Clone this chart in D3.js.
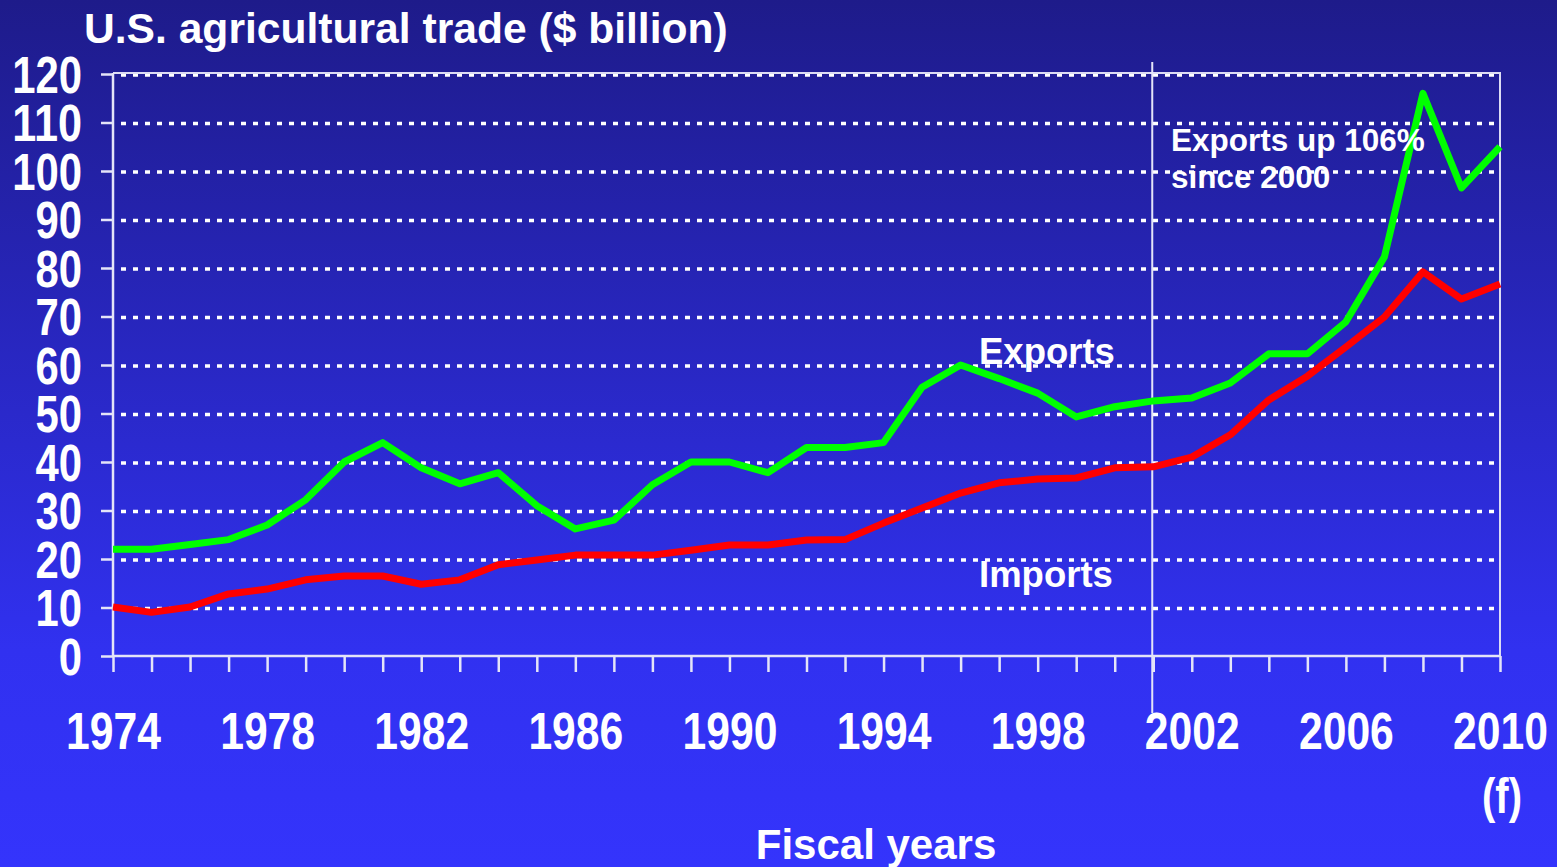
<!DOCTYPE html>
<html>
<head>
<meta charset="utf-8">
<script src="https://cdn.jsdelivr.net/npm/d3@7"></script>
<style>
  html, body { margin: 0; padding: 0; overflow: hidden; }
  svg { display: block; }
  .tick text { fill: #fff; font-family: "Liberation Sans", Arial, sans-serif; font-weight: bold; }
  .lbl { fill: #fff; font-family: "Liberation Sans", Arial, sans-serif; font-weight: bold; }
</style>
</head>
<body>
<div class="container"></div>
<script>
const years = [1974, 1975, 1976, 1977, 1978, 1979, 1980, 1981, 1982, 1983, 1984, 1985,
  1986, 1987, 1988, 1989, 1990, 1991, 1992, 1993, 1994, 1995, 1996, 1997, 1998,
  1999, 2000, 2001, 2002, 2003, 2004, 2005, 2006, 2007, 2008, 2009, 2010];

const exportsValues = [22, 22, 23, 24, 27, 32.2, 40, 44, 38.8, 35.5, 37.8, 31,
  26.2, 28, 35.3, 40, 40, 37.8, 43, 43, 44, 55.4, 60, 57.2, 54.2,
  49.3, 51.4, 52.6, 53.2, 56.3, 62.3, 62.3, 68.9, 82.3, 116, 96.5, 105];

const importsValues = [10.1, 9, 10.1, 12.8, 13.8, 15.7, 16.5, 16.5, 14.8, 15.7, 18.8, 19.8,
  20.8, 20.8, 20.8, 21.8, 22.9, 22.9, 23.9, 24, 27.4, 30.5, 33.6, 35.7, 36.5,
  36.7, 38.8, 39, 41, 45.6, 52.8, 57.7, 63.7, 69.9, 79.2, 73.6, 76.7];

const yTicks = [0, 10, 20, 30, 40, 50, 60, 70, 80, 90, 100, 110, 120];
const xLabelYears = [1974, 1978, 1982, 1986, 1990, 1994, 1998, 2002, 2006, 2010];
const markerYear = 2001;

const width = 1557;
const height = 867;
const margin = { top: 74, right: 57, bottom: 211, left: 113 };

// narrow bold digits: no condensed font installed, so squeeze each label
const narrow = (sel, size) => sel
  .style('font-size', `${size}px`)
  .attr('textLength', function () { return this.textContent.length * 0.456 * size; })
  .attr('lengthAdjust', 'spacingAndGlyphs');

const svg = d3.select('.container')
  .append('svg')
  .attr('width', width)
  .attr('height', height);

// background
const grad = svg.append('defs').append('linearGradient')
  .attr('id', 'bg')
  .attr('x1', 0).attr('y1', 0).attr('x2', 0).attr('y2', 1);
grad.append('stop').attr('offset', '0').attr('stop-color', '#1e1b8a');
grad.append('stop').attr('offset', '0.75').attr('stop-color', '#3131f0');
grad.append('stop').attr('offset', '1').attr('stop-color', '#3434fc');

svg.append('rect')
  .attr('width', width)
  .attr('height', height)
  .attr('fill', 'url(#bg)');

const x = d3.scaleLinear()
  .domain([1974, 2010])
  .range([margin.left, width - margin.right]);

const y = d3.scaleLinear()
  .domain([0, 120])
  .range([height - margin.bottom, margin.top]);

// dotted gridlines
svg.append('g')
  .selectAll('line')
  .data(yTicks.filter(d => d > 0))
  .enter()
  .append('line')
  .attr('x1', x(1974) + 8)
  .attr('x2', x(2010) - 4)
  .attr('y1', d => y(d) + 1)
  .attr('y2', d => y(d) + 1)
  .attr('stroke', '#fff')
  .attr('stroke-width', 3.5)
  .attr('stroke-dasharray', '5,7');

// frame top + right
svg.append('path')
  .attr('d', `M${x(1974)},${y(120) - 1}H${x(2010)}V${y(0)}`)
  .attr('fill', 'none')
  .attr('stroke', '#dcdcf4')
  .attr('stroke-width', 2);

// axes
const axisY = d3.axisLeft(y)
  .tickValues(yTicks)
  .tickSize(12)
  .tickPadding(19);

const axisX = d3.axisBottom(x)
  .tickValues(years)
  .tickSize(16)
  .tickPadding(40)
  .tickFormat(d => xLabelYears.includes(d) ? d : '');

const groupAxisY = svg.append('g')
  .attr('transform', `translate(${x(1974)},0)`)
  .call(axisY);

groupAxisY.selectAll('text')
  .attr('dy', '0.36em')
  .call(narrow, 51);

const groupAxisX = svg.append('g')
  .attr('transform', `translate(0,${y(0)})`)
  .call(axisX);

groupAxisX.selectAll('text')
  .filter(d => xLabelYears.includes(d))
  .attr('dy', '0.71em')
  .call(narrow, 52);

svg.selectAll('.domain, .tick line')
  .attr('stroke', '#e4e4f8')
  .attr('stroke-width', 2.5);

svg.selectAll('.domain')
  .attr('d', function () {
    return this.parentNode === groupAxisY.node()
      ? `M0,${y(120) - 1}V${y(0)}`
      : `M${x(1974)},0H${x(2010)}`;
  });

// (f) under 2010
svg.append('text')
  .attr('class', 'lbl')
  .attr('x', x(2010) + 2)
  .attr('y', y(0) + 157)
  .attr('text-anchor', 'middle')
  .text('(f)')
  .call(sel => sel
    .style('font-size', '50px')
    .attr('textLength', 40)
    .attr('lengthAdjust', 'spacingAndGlyphs'));

// marker line at 2001
svg.append('line')
  .attr('x1', x(markerYear) - 1)
  .attr('x2', x(markerYear) - 1)
  .attr('y1', y(120) - 12)
  .attr('y2', y(0) + 57)
  .attr('stroke', '#e4e4f8')
  .attr('stroke-width', 2);

// lines
const line = values => d3.line()
  .x((d, i) => x(years[i]))
  .y(d => y(d))(values);

svg.append('path')
  .attr('d', line(exportsValues))
  .attr('fill', 'none')
  .attr('stroke', '#00ff00')
  .attr('stroke-width', 7)
  .attr('stroke-linejoin', 'round');

svg.append('path')
  .attr('d', line(importsValues))
  .attr('fill', 'none')
  .attr('stroke', '#ff0000')
  .attr('stroke-width', 7)
  .attr('stroke-linejoin', 'round');

// texts
svg.append('text')
  .attr('class', 'lbl')
  .attr('x', 84)
  .attr('y', 43)
  .style('font-size', '42.6px')
  .text('U.S. agricultural trade ($ billion)');

svg.append('text')
  .attr('class', 'lbl')
  .attr('x', 979)
  .attr('y', 364)
  .style('font-size', '36.5px')
  .text('Exports');

svg.append('text')
  .attr('class', 'lbl')
  .attr('x', 979)
  .attr('y', 587)
  .style('font-size', '36.5px')
  .text('Imports');

svg.append('text')
  .attr('class', 'lbl')
  .attr('x', 1171)
  .attr('y', 151)
  .style('font-size', '31.5px')
  .text('Exports up 106%');

svg.append('text')
  .attr('class', 'lbl')
  .attr('x', 1171)
  .attr('y', 188)
  .style('font-size', '31.5px')
  .text('since 2000');

svg.append('text')
  .attr('class', 'lbl')
  .attr('x', 876)
  .attr('y', 859)
  .attr('text-anchor', 'middle')
  .style('font-size', '42px')
  .text('Fiscal years');
</script>
</body>
</html>
